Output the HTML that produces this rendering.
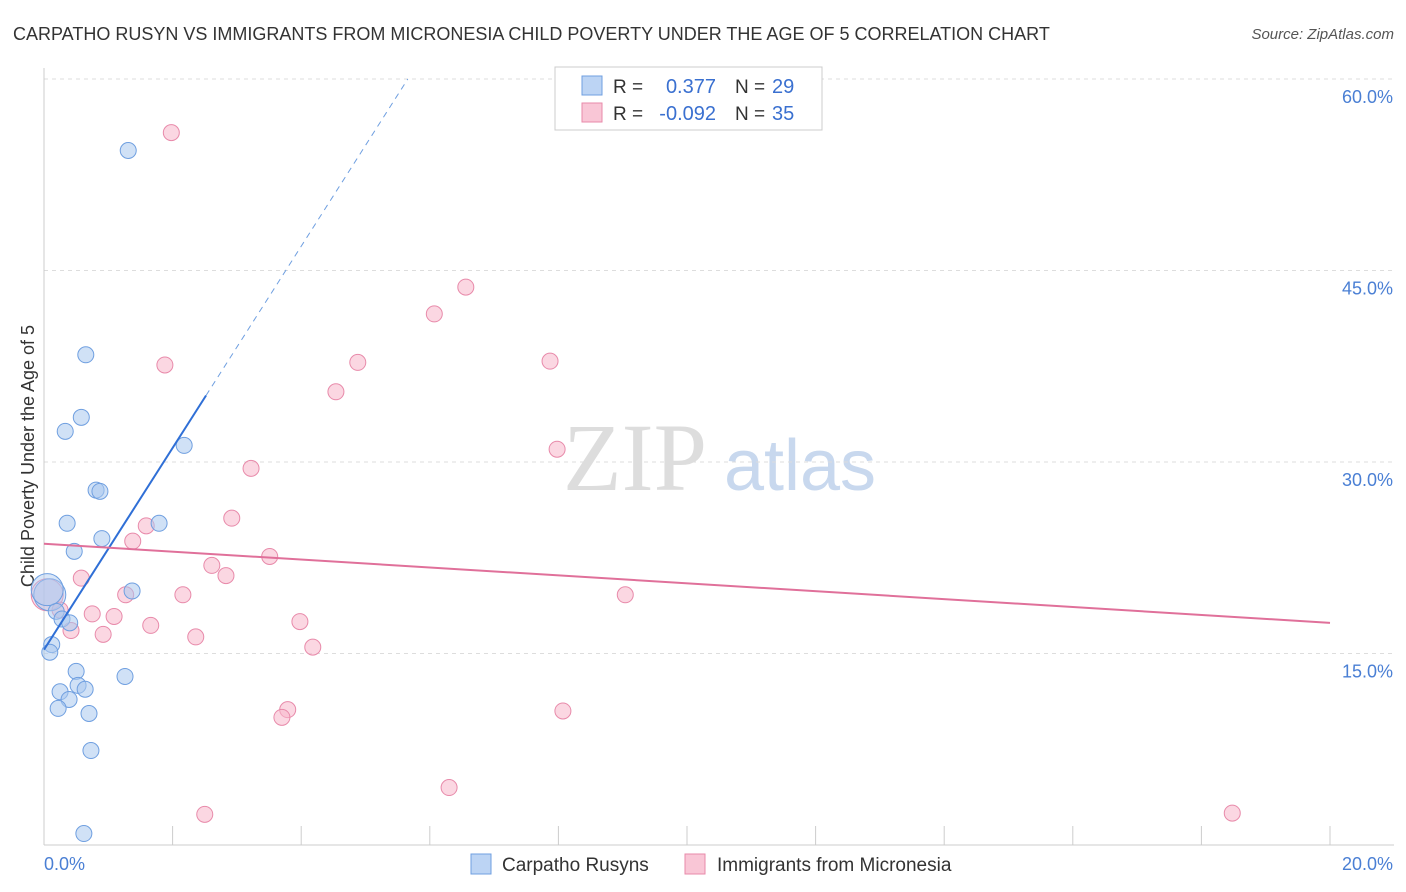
<!DOCTYPE html>
<html><head><meta charset="utf-8">
<style>
body{margin:0;background:#fff;font-family:"Liberation Sans",sans-serif;}
#wrap{position:relative;width:1406px;height:892px;overflow:hidden;}
</style></head>
<body>
<div id="wrap">
<svg id="chart" width="1406" height="892"></svg>
</div>
<script>
const blueX=[1.31,0.65,0.58,0.33,2.18,0.81,0.87,0.36,1.79,0.90,0.47,1.37,0.09,0.19,0.28,0.40,0.12,0.09,0.50,1.26,0.53,0.64,0.25,0.39,0.22,0.70,0.73,0.62,0.05];
const blueY=[54.4,38.4,33.5,32.4,31.3,27.8,27.7,25.2,25.2,24.0,23.0,19.9,19.6,18.3,17.7,17.4,15.7,15.1,13.6,13.2,12.5,12.2,12.0,11.4,10.7,10.3,7.4,0.9,20.0];
const pinkX=[1.98,6.56,6.07,1.88,4.88,7.87,4.54,7.98,3.22,2.92,1.59,1.38,3.51,2.61,2.83,0.58,1.27,2.16,9.04,0.05,0.75,1.09,3.98,1.66,0.42,0.92,2.36,4.18,3.79,3.70,8.07,6.30,2.50,18.48,0.25];
const pinkY=[55.8,43.7,41.6,37.6,37.8,37.9,35.5,31.0,29.5,25.6,25.0,23.8,22.6,21.9,21.1,20.9,19.6,19.6,19.6,19.6,18.1,17.9,17.5,17.2,16.8,16.5,16.3,15.5,10.6,10.0,10.5,4.5,2.4,2.5,18.4];
const yTicks=[15,30,45,60];
const yTickLabels=["15.0%","30.0%","45.0%","60.0%"];
const xTickVals=[0,2,4,6,8,10,12,14,16,18,20];
const blueLine=[15.3,7.9];   // intercept, slope
const pinkLine=[23.6,-0.31];

const X0=44,X1=1330,Y0=845,Y60=79;
const sx=v=>X0+(v/20)*(X1-X0);
const sy=v=>Y0-(v/60)*(Y0-Y60);
const svg=document.getElementById('chart');
const NS='http://www.w3.org/2000/svg';
function mk(tag,attrs,parent){const e=document.createElementNS(NS,tag);for(const k in attrs)e.setAttribute(k,attrs[k]);(parent||svg).appendChild(e);return e;}

// title
let t=mk('text',{x:13,y:40,'font-size':18,fill:'#333'});t.textContent='CARPATHO RUSYN VS IMMIGRANTS FROM MICRONESIA CHILD POVERTY UNDER THE AGE OF 5 CORRELATION CHART';

t=mk('text',{x:1394,y:39,'font-size':15,fill:'#555','text-anchor':'end','font-style':'italic'});t.textContent='Source: ZipAtlas.com';


// watermark
t=mk('text',{x:635,y:490,'font-size':96,fill:'#ddd','text-anchor':'middle','font-family':'Liberation Serif'});t.textContent='ZIP';

t=mk('text',{x:800,y:490,'font-size':72,fill:'#c8d8ee','text-anchor':'middle'});t.textContent='atlas';


// gridlines
yTicks.forEach((v,i)=>{
 const g=mk('line',{x1:X0,x2:1394,y1:sy(v),y2:sy(v),stroke:'#ddd','stroke-dasharray':'4,4'});
 
 const l=mk('text',{x:1393,y:sy(v)+24,'font-size':18,fill:'#4a7fd4','text-anchor':'end'});l.textContent=yTickLabels[i];
 
});
// axes
let a=mk('line',{x1:X0,x2:X0,y1:68,y2:Y0,stroke:'#ccc'});
a=mk('line',{x1:X0,x2:1394,y1:Y0,y2:Y0,stroke:'#ccc'});
xTickVals.forEach(v=>{const k=mk('line',{x1:sx(v),x2:sx(v),y1:826,y2:Y0,stroke:'#ccc'});});
t=mk('text',{x:44,y:870,'font-size':18,fill:'#4a7fd4'});t.textContent='0.0%';
t=mk('text',{x:1393,y:870,'font-size':18,fill:'#4a7fd4','text-anchor':'end'});t.textContent='20.0%';
t=mk('text',{x:34,y:456,'font-size':18,fill:'#333','text-anchor':'middle',transform:'rotate(-90 34 456)'});t.textContent='Child Poverty Under the Age of 5';


// points
function pts(xs,ys,fill,stroke,name){
 xs.forEach((x,i)=>{
  const big=(x<0.1&&ys[i]>19&&ys[i]<20.5);
  const c=mk('circle',{cx:sx(x),cy:sy(ys[i]),r:big?16:8,fill:fill,stroke:stroke,'stroke-width':1,'fill-opacity':big?0.45:0.55});
  
 });
}
pts(pinkX,pinkY,'#f7b6cb','#e88aaa','pink-point');
pts(blueX,blueY,'#aac8ef','#6f9fe0','blue-point');

// trend lines
let xe=2.52;
let L=mk('line',{x1:sx(0),y1:sy(blueLine[0]),x2:sx(xe),y2:sy(blueLine[0]+blueLine[1]*xe),stroke:'#2f6fd6','stroke-width':2});

let xd=(60-blueLine[0])/blueLine[1];
L=mk('line',{x1:sx(xe),y1:sy(blueLine[0]+blueLine[1]*xe),x2:sx(xd),y2:sy(60),stroke:'#6f9fe0','stroke-width':1,'stroke-dasharray':'6,5'});

L=mk('line',{x1:sx(0),y1:sy(pinkLine[0]),x2:sx(20),y2:sy(pinkLine[0]+pinkLine[1]*20),stroke:'#e0709a','stroke-width':2});


// top legend
let g=mk('g',{});
mk('rect',{x:555,y:67,width:267,height:63,fill:'#fff',stroke:'#ccc'},g);
mk('rect',{x:582,y:76,width:20,height:19,fill:'#bcd4f4',stroke:'#6f9fe0'},g);
mk('rect',{x:582,y:103,width:20,height:19,fill:'#f9c6d6',stroke:'#e88aaa'},g);
[[93,'0.377','29'],[120,'-0.092','35']].forEach(r=>{
 let a=mk('text',{x:613,y:r[0],'font-size':19,fill:'#333'},g);a.textContent='R = ';
 a=mk('text',{x:716,y:r[0],'font-size':20,fill:'#3a70d0','text-anchor':'end'},g);a.textContent=r[1];
 a=mk('text',{x:735,y:r[0],'font-size':19,fill:'#333'},g);a.textContent='N = ';
 a=mk('text',{x:772,y:r[0],'font-size':20,fill:'#3a70d0'},g);a.textContent=r[2];
});
// bottom legend
g=mk('g',{});
mk('rect',{x:471,y:854,width:20,height:20,fill:'#bcd4f4',stroke:'#6f9fe0'},g);
t=mk('text',{x:502,y:871,'font-size':19,fill:'#333'},g);t.textContent='Carpatho Rusyns';
mk('rect',{x:685,y:854,width:20,height:20,fill:'#f9c6d6',stroke:'#e88aaa'},g);
t=mk('text',{x:717,y:871,'font-size':19,fill:'#333'},g);t.textContent='Immigrants from Micronesia';
</script>
</body></html>
